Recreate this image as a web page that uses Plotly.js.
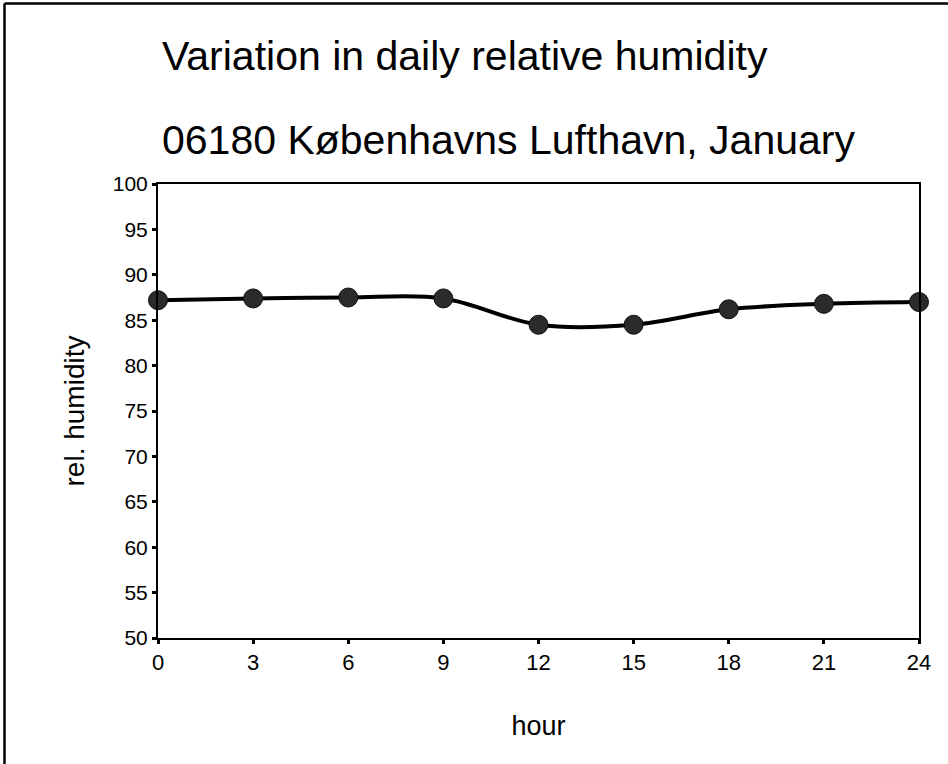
<!DOCTYPE html>
<html>
<head>
<meta charset="utf-8">
<script src="https://cdn.plot.ly/plotly-3.0.1.min.js"></script>
<style>html,body{margin:0;padding:0;background:#fff;}#chart{width:948px;height:764px;}</style>
</head>
<body>
<div id="chart"></div>
<script>
const hours = [0, 3, 6, 9, 12, 15, 18, 21, 24];
const relHumidity = [87.2, 87.4, 87.5, 87.4, 84.5, 84.5, 86.2, 86.8, 87.0];
const titleLine1 = "Variation in daily relative humidity";
const titleLine2 = "06180 Københavns Lufthavn, January";
const xTickVals = [0, 3, 6, 9, 12, 15, 18, 21, 24];
const yTickVals = [50, 55, 60, 65, 70, 75, 80, 85, 90, 95, 100];

const font = "Liberation Sans, Arial, sans-serif";

const trace = {
  x: hours, y: relHumidity, type: 'scatter', mode: 'lines+markers',
  line: {color: '#000', width: 4, shape: 'spline', smoothing: 1},
  marker: {symbol: 'circle', size: 19, color: '#2b2b2b', line: {color: '#111', width: 1}},
  showlegend: false, cliponaxis: false
};

const layout = {
  width: 948, height: 764,
  margin: {l: 158, r: 29, t: 184, b: 126},
  paper_bgcolor: '#fff', plot_bgcolor: '#fff',
  font: {family: font, color: '#000'},
  xaxis: {
    range: [0, 24], tickvals: xTickVals, ticktext: xTickVals.map(String),
    showgrid: false, zeroline: false, showline: true, linecolor: '#000', linewidth: 2, mirror: true,
    ticks: 'outside', ticklen: 4, tickwidth: 3, tickcolor: '#000',
    tickfont: {size: 22, family: font, color: '#000'},
    title: {text: 'hour', font: {size: 27, family: font, color: '#000'}, standoff: 42}
  },
  yaxis: {
    range: [50, 100], tickvals: yTickVals, ticktext: yTickVals.map(String),
    showgrid: false, zeroline: false, showline: true, linecolor: '#000', linewidth: 2, mirror: true,
    ticks: 'outside', ticklen: 4, tickwidth: 3, tickcolor: '#000',
    tickfont: {size: 21, family: font, color: '#000'},
    title: {text: 'rel. humidity', font: {size: 28, family: font, color: '#000'}, standoff: 20}
  },
  annotations: [
    {text: titleLine1, xref: 'paper', yref: 'paper', x: 0.002, y: 1.282, xanchor: 'left', yanchor: 'middle', showarrow: false, font: {size: 41, family: font, color: '#000'}},
    {text: titleLine2, xref: 'paper', yref: 'paper', x: 0.002, y: 1.0969, xanchor: 'left', yanchor: 'middle', showarrow: false, font: {size: 41, family: font, color: '#000'}}
  ],
  shapes: [
    {type: 'line', xref: 'paper', yref: 'paper', x0: -0.2017, x1: -0.2017, y0: -0.5, y1: 1.3976, line: {color: '#000', width: 2.5}},
    {type: 'line', xref: 'paper', yref: 'paper', x0: -0.2017, x1: 1.2, y0: 1.3976, y1: 1.3976, line: {color: '#000', width: 2.5}}
  ]
};

Plotly.newPlot('chart', [trace], layout, {displayModeBar: false, staticPlot: true});
</script>
</body>
</html>
